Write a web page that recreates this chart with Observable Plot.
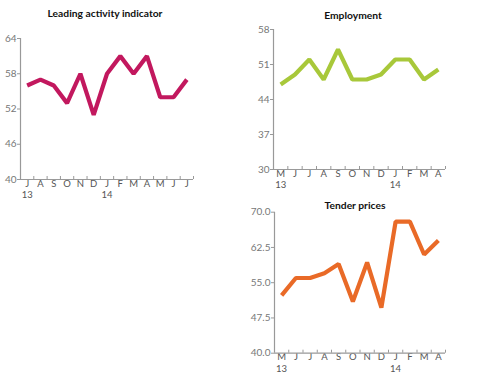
<!DOCTYPE html>
<html><head><meta charset="utf-8">
<script src="https://cdn.jsdelivr.net/npm/d3@7"></script>
<script src="https://cdn.jsdelivr.net/npm/@observablehq/plot@0.6"></script>
<style>
body{margin:0;background:#fff;}
#wrap{position:relative;width:480px;height:375px;font-family:Lato,"Open Sans",sans-serif;}
.panel{position:absolute;}
.title{position:absolute;font-family:Lato,sans-serif;font-weight:700;font-size:10.3px;color:#111;transform:translateX(-50%);white-space:nowrap;}
</style></head>
<body><div id="wrap"></div>
<script>
// Leading activity indicator (Jul 2013 - Jul 2014)
const leadMonths = ["J","A","S","O","N","D","J","F","M","A","M","J","J"];
const leadYears  = ["13","","","","","","14","","","","","",""];
const leadValues = [56,57,56,53,58,51,58,61,58,61,54,54,57];
const leadTicks  = [40,46,52,58,64];

// Employment (May 2013 - Apr 2014)
const empMonths = ["M","J","J","A","S","O","N","D","J","F","M","A"];
const empYears  = ["13","","","","","","","","14","","",""];
const empValues = [47,49,52,48,54,48,48,49,52,52,48,50];
const empTicks  = [30,37,44,51,58];

// Tender prices (May 2013 - Apr 2014)
const tenMonths = ["M","J","J","A","S","O","N","D","J","F","M","A"];
const tenYears  = ["13","","","","","","","","14","","",""];
const tenValues = [52.3,56,56,57,59,51,59.3,49.7,68,68,61,64];
const tenTicks  = [40,47.5,55,62.5,70];

const wrap = document.getElementById("wrap");

function panel({months, years, values, yTicks, fmt, color, left, top, width, height, mL, mR, mT, mB, title, tx, ty}) {
  const n = values.length;
  const data = values.map((v,i)=>({i: i+0.5, v}));
  const plotH = height - mT - mB;
  const yearPos = d3.range(n).filter(k => years[k]).map(k => k + 0.5);
  const chart = Plot.plot({
    width, height,
    marginLeft: mL, marginRight: mR, marginTop: mT, marginBottom: mB,
    style: {fontFamily: "Lato, 'Open Sans', sans-serif", background: "transparent", color: "#555"},
    x: {domain: [0, n], label: null},
    y: {domain: [yTicks[0], yTicks[yTicks.length-1]], label: null},
    marks: [
      Plot.axisY({ticks: yTicks, tickSize: 3, tickPadding: 1, tickFormat: fmt, fontSize: 10, stroke: "#999", color: "#777", label: null}),
      Plot.axisX({ticks: d3.range(n).map(i=>i+0.5), tickSize: 0, tickPadding: 0.5, fontSize: 9.5, color: "#555", label: null,
        tickFormat: d => months[Math.floor(d)]}),
      Plot.axisX({ticks: yearPos, tickSize: 0, tickPadding: 12, fontSize: 9.5, color: "#555", label: null,
        tickFormat: d => years[Math.floor(d)]}),
      Plot.ruleX(d3.range(1, n+1), {stroke: "#999", strokeWidth: 1, insetTop: plotH - 3}),
      Plot.ruleY([yTicks[0]], {stroke: "#999", strokeWidth: 1.2}),
      Plot.ruleX([0], {stroke: "#999", strokeWidth: 1.2}),
      Plot.line(data, {x: "i", y: "v", stroke: color, strokeWidth: 4.2, strokeLinejoin: "miter", strokeLinecap: "butt"})
    ]
  });
  const d = document.createElement("div");
  d.className = "panel";
  d.style.left = left + "px"; d.style.top = top + "px";
  d.appendChild(chart);
  wrap.appendChild(d);
  const t = document.createElement("div");
  t.className = "title";
  t.textContent = title;
  t.style.left = tx + "px"; t.style.top = ty + "px";
  wrap.appendChild(t);
}

panel({months: leadMonths, years: leadYears, values: leadValues, yTicks: leadTicks, fmt: d3.format("d"),
  color: "#c2185e", left: 0, top: 0, width: 200, height: 210, mL: 20, mR: 7, mT: 38, mB: 31,
  title: "Leading activity indicator", tx: 105, ty: 7});

panel({months: empMonths, years: empYears, values: empValues, yTicks: empTicks, fmt: d3.format("d"),
  color: "#a8c83a", left: 240, top: 0, width: 215, height: 200, mL: 33, mR: 10, mT: 29, mB: 31,
  title: "Employment", tx: 353, ty: 9});

panel({months: tenMonths, years: tenYears, values: tenValues, yTicks: tenTicks, fmt: d3.format(".1f"),
  color: "#e96a27", left: 240, top: 190, width: 215, height: 185, mL: 34, mR: 10, mT: 21.7, mB: 22.3,
  title: "Tender prices", tx: 355, ty: 199});
</script></body></html>
